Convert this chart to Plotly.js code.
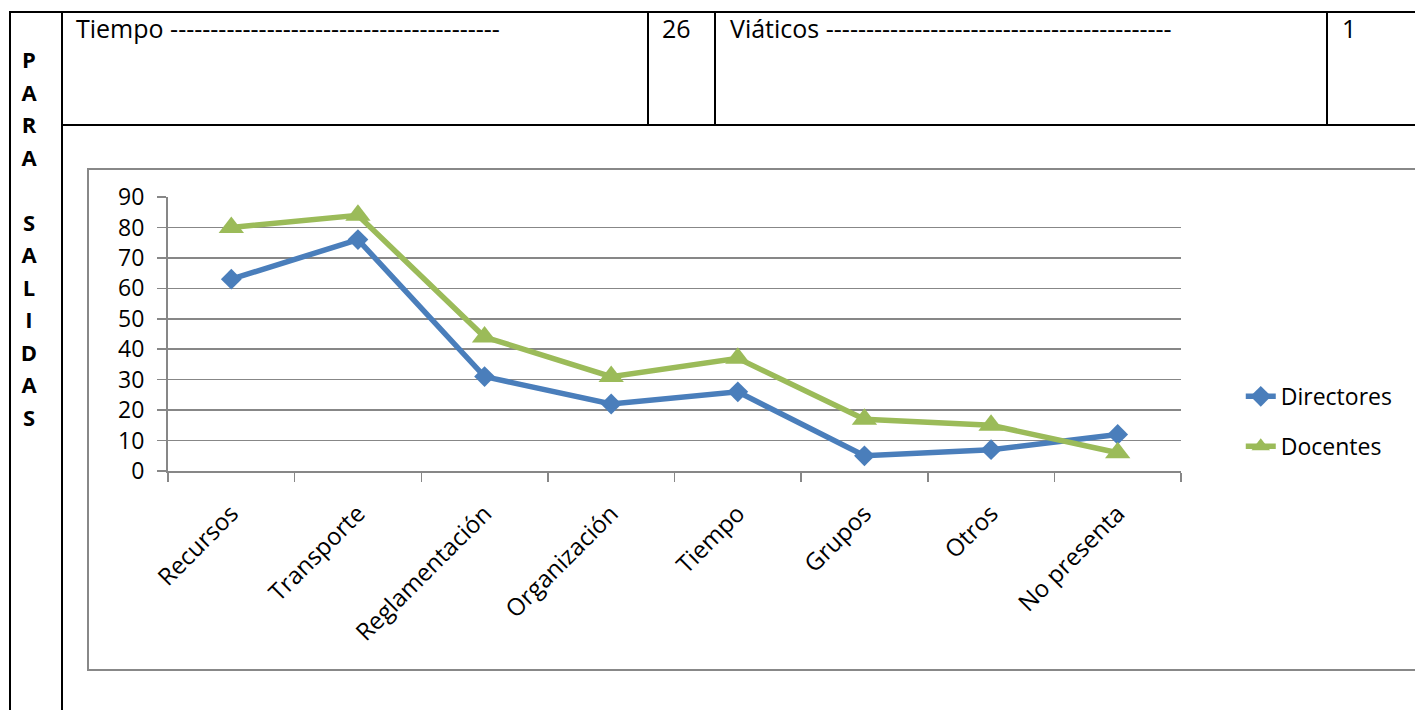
<!DOCTYPE html>
<html>
<head>
<meta charset="utf-8">
<script src="https://cdn.plot.ly/plotly-3.0.1.min.js"></script>
<style>
  html, body { margin: 0; padding: 0; background: #fff; }
  #page { position: relative; width: 1415px; height: 710px; overflow: hidden; background: #fff; font-family: "Open Sans", sans-serif; }
  .ln { position: absolute; background: #000; }
  .txt { position: absolute; font-size: 25px; line-height: 32px; color: #000; white-space: nowrap; }
  #side { position: absolute; left: 10px; width: 38px; top: 43px; text-align: center; font-weight: bold; font-size: 22px; line-height: 32.5px; }
  #frame { position: absolute; left: 87px; top: 168px; width: 1400px; height: 503px; border: 2px solid #888; box-sizing: border-box; }
  #chart { position: absolute; left: 0; top: 0; width: 1415px; height: 710px; }
</style>
</head>
<body>
<div id="page">
  <!-- table borders -->
  <div class="ln" style="left:9px; top:11px; width:1406px; height:2px;"></div>
  <div class="ln" style="left:9px; top:11px; width:2px; height:699px;"></div>
  <div class="ln" style="left:61px; top:11px; width:2px; height:699px;"></div>
  <div class="ln" style="left:61px; top:124px; width:1354px; height:2px;"></div>
  <div class="ln" style="left:647px; top:11px; width:1.5px; height:114px;"></div>
  <div class="ln" style="left:714px; top:11px; width:1.5px; height:114px;"></div>
  <div class="ln" style="left:1326px; top:11px; width:1.5px; height:114px;"></div>

  <div class="txt" style="left:76px; top:12px;">Tiempo -----------------------------------------</div>
  <div class="txt" style="left:662px; top:12px;">26</div>
  <div class="txt" style="left:730px; top:12px;">Viáticos -------------------------------------------</div>
  <div class="txt" style="left:1342px; top:12px;">1</div>

  <div id="side">P<br>A<br>R<br>A<br>&nbsp;<br>S<br>A<br>L<br>I<br>D<br>A<br>S</div>

  <div id="frame"></div>
  <div id="chart"></div>
</div>
<script>
const categories = ["Recursos", "Transporte", "Reglamentación", "Organización", "Tiempo", "Grupos", "Otros", "No presenta"];
const directores = [63, 76, 31, 22, 26, 5, 7, 12];
const docentes = [80, 84, 44, 31, 37, 17, 15, 6];
const yTicks = [0, 10, 20, 30, 40, 50, 60, 70, 80, 90];

const blue = "#4A7EBB";
const green = "#9BBB59";
const gray = "#878787";

const traces = [
  {
    x: categories, y: directores, name: "Directores", type: "scatter", mode: "lines+markers",
    legendgroup: "a",
    line: { color: blue, width: 5.5 },
    marker: { symbol: "diamond", size: 16, color: blue }
  },
  {
    x: categories, y: docentes, name: "Docentes", type: "scatter", mode: "lines+markers",
    legendgroup: "b",
    line: { color: green, width: 5.5 },
    marker: { symbol: "triangle-up", size: 22, color: green }
  }
];

const layout = {
  width: 1415, height: 710,
  margin: { l: 168, r: 234, t: 197, b: 239, pad: 0 },
  paper_bgcolor: "rgba(0,0,0,0)",
  plot_bgcolor: "rgba(0,0,0,0)",
  font: { family: "Open Sans, sans-serif", color: "#000", size: 23 },
  showlegend: true,
  legend: {
    x: 1.059, xanchor: "left", y: 0.181, yanchor: "middle",
    font: { size: 23, color: "#000" },
    tracegroupgap: 17,
    bgcolor: "rgba(0,0,0,0)"
  },
  xaxis: {
    type: "category",
    range: [-0.5, 7.5],
    showline: true, linecolor: gray, linewidth: 2,
    showgrid: false, zeroline: false,
    ticks: "outside", tickson: "boundaries", ticklen: 9, tickcolor: gray, tickwidth: 1.5,
    tickangle: -45,
    ticklabelstandoff: 17,
    tickfont: { size: 24, color: "#000" },
    fixedrange: true
  },
  yaxis: {
    range: [0, 90],
    tickvals: yTicks,
    ticktext: yTicks.map(String),
    showline: true, linecolor: gray, linewidth: 2,
    showgrid: true, gridcolor: gray, gridwidth: 1.5,
    zeroline: false,
    ticks: "outside", ticklen: 9, tickcolor: gray, tickwidth: 1.5,
    ticklabelstandoff: 8,
    tickfont: { size: 23, color: "#000" },
    fixedrange: true
  }
};

Plotly.newPlot("chart", traces, layout, { displayModeBar: false, staticPlot: true });
</script>
</body>
</html>
